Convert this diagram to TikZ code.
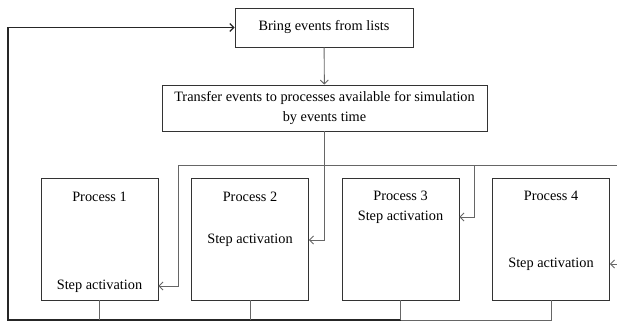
\documentclass[tikz,border=0pt]{standalone}
\usepackage{fontspec}
\setmainfont{Liberation Serif}
\usepackage{xcolor}
\usepackage{tikz}
\usetikzlibrary{arrows.meta, positioning, calc}

\begin{document}
\begin{tikzpicture}[->, >={Straight Barb[length=4pt,width=8pt]}, x=1pt, y=-1pt, font=\fontsize{14.3}{20}\selectfont]
  \tikzstyle{box} = [draw=black!80, line width=0.8pt, rectangle, align=center, inner sep=0pt]
  \tikzstyle{proc} = [draw=black!80, line width=0.8pt, rectangle, minimum width=117pt, minimum height=122pt, inner sep=0pt]
  \tikzstyle{wire} = [draw=black!60, line width=0.9pt]
  \tikzstyle{loop} = [draw=black!85, line width=1.2pt]

  \useasboundingbox (0,0) rectangle (617,322);

  % top boxes
  \node[box, minimum width=178pt, minimum height=39pt] (Bring) at (324,27.5) {Bring events from lists};
  \node[box, minimum width=325pt, minimum height=46pt] (Transfer) at (324.5,108)
    {Transfer events to processes available for simulation\\by events time};

  % processes
  \node[proc] (P1) at (99.5,239) {};
  \node[proc] (P2) at (250,239) {};
  \node[proc] (P3) at (400.5,239) {};
  \node[proc] (P4) at (551,239) {};

  \node (T1) at (99.5,197) {Process 1};
  \node (T2) at (250,197) {Process 2};
  \node (T3) at (400.5,196) {Process 3};
  \node (T4) at (551,196) {Process 4};

  \node (S1) at (99.5,286) {Step activation};
  \node (S2) at (250,240) {Step activation};
  \node (S3) at (400.5,217) {Step activation};
  \node (S4) at (551,264) {Step activation};

  \coordinate (BusL) at (178,165);
  \coordinate (BusR) at (617,165);
  \coordinate (Bus3) at (474,165);
  \coordinate (Low) at (8,320);

  \path (Bring) edge[wire] (Transfer);
  \draw[wire, -] (BusL) -- (BusR);
  \draw[wire] (BusL) |- (S1 -| P1.east);
  \draw[wire] (Transfer.south) |- (S2 -| P2.east);
  \draw[wire] (Bus3) |- (S3 -| P3.east);
  \draw[wire] (BusR |- S4) -- (S4 -| P4.east);

  % back to the lists
  \draw[wire, -] (P4.south) |- (P3.south |- Low);
  \draw[loop] (P3.south |- Low) -- (Low) |- (Bring.west);
  \draw[wire, -] (P1.south) -- (P1.south |- Low);
  \draw[wire, -] (P2.south) -- (P2.south |- Low);
  \draw[wire, -] (P3.south) -- (P3.south |- Low);
\end{tikzpicture}
\end{document}
